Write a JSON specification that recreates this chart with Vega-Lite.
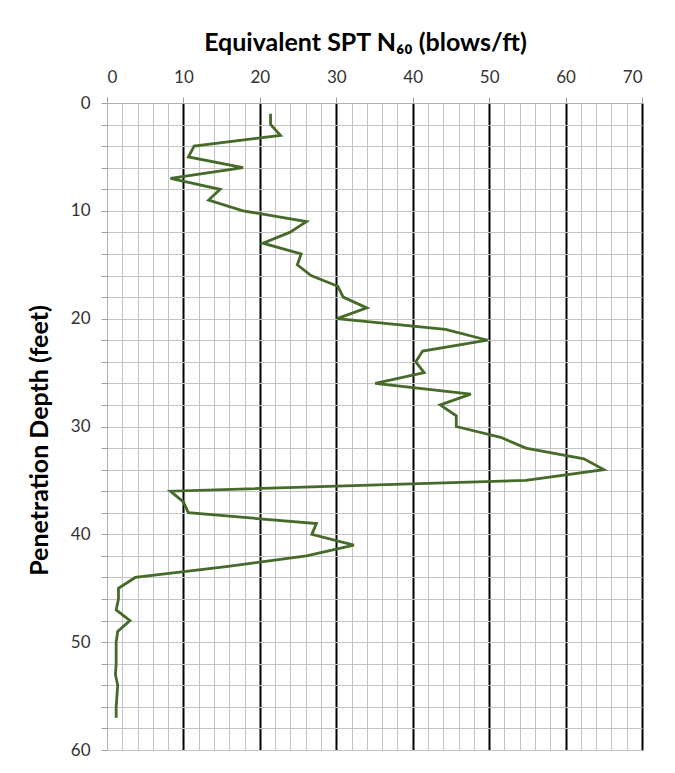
{
  "$schema": "https://vega.github.io/schema/vega-lite/v6.json",
  "width": 535,
  "height": 647,
  "autosize": "none",
  "padding": {"left": 107, "top": 103, "right": 33, "bottom": 23},
  "background": "white",
  "data": {
    "values": [
      {"depth": 1, "n60": 21.4}, {"depth": 2, "n60": 21.4}, {"depth": 3, "n60": 22.7},
      {"depth": 4, "n60": 11.4}, {"depth": 5, "n60": 10.65}, {"depth": 6, "n60": 17.8},
      {"depth": 7, "n60": 8.3}, {"depth": 8, "n60": 14.8}, {"depth": 9, "n60": 13.3},
      {"depth": 10, "n60": 17.8}, {"depth": 11, "n60": 26.1}, {"depth": 12, "n60": 23.9},
      {"depth": 13, "n60": 20.4}, {"depth": 14, "n60": 25.4}, {"depth": 15, "n60": 24.9},
      {"depth": 16, "n60": 26.7}, {"depth": 17, "n60": 30.2}, {"depth": 18, "n60": 30.9},
      {"depth": 19, "n60": 34.0}, {"depth": 20, "n60": 30.1}, {"depth": 21, "n60": 44.3},
      {"depth": 22, "n60": 49.8}, {"depth": 23, "n60": 41.3}, {"depth": 24, "n60": 40.4},
      {"depth": 25, "n60": 41.5}, {"depth": 26, "n60": 35.1}, {"depth": 27, "n60": 47.6},
      {"depth": 28, "n60": 43.6}, {"depth": 29, "n60": 45.7}, {"depth": 30, "n60": 45.7},
      {"depth": 31, "n60": 51.5}, {"depth": 32, "n60": 54.8}, {"depth": 33, "n60": 62.4},
      {"depth": 34, "n60": 65.0}, {"depth": 35, "n60": 54.8}, {"depth": 36, "n60": 8.3},
      {"depth": 37, "n60": 10.0}, {"depth": 38, "n60": 10.65}, {"depth": 39, "n60": 27.4},
      {"depth": 40, "n60": 26.8}, {"depth": 41, "n60": 32.3}, {"depth": 42, "n60": 26.1},
      {"depth": 43, "n60": 15.6}, {"depth": 44, "n60": 3.7}, {"depth": 45, "n60": 1.5},
      {"depth": 46, "n60": 1.5}, {"depth": 47, "n60": 1.2}, {"depth": 48, "n60": 3.0},
      {"depth": 49, "n60": 1.4}, {"depth": 50, "n60": 1.2}, {"depth": 51, "n60": 1.2},
      {"depth": 52, "n60": 1.2}, {"depth": 53, "n60": 1.1}, {"depth": 54, "n60": 1.4},
      {"depth": 55, "n60": 1.3}, {"depth": 56, "n60": 1.2}, {"depth": 57, "n60": 1.2}
    ]
  },
  "mark": {"type": "line", "color": "#466a2a", "strokeWidth": 2.8, "clip": true},
  "encoding": {
    "x": {
      "field": "n60",
      "type": "quantitative",
      "scale": {"domain": [0, 70], "nice": false, "zero": true},
      "axis": {
        "orient": "top",
        "title": "Equivalent SPT N₆₀ (blows/ft)",
        "values": [0,2,4,6,8,10,12,14,16,18,20,22,24,26,28,30,32,34,36,38,40,42,44,46,48,50,52,54,56,58,60,62,64,66,68,70],
        "labelExpr": "datum.value % 10 === 0 ? datum.label : ''",
        "gridColor": {"condition": {"test": "datum.value % 10 === 0 && datum.value > 0", "value": "#000000"}, "value": "#c4c4c4"},
        "gridWidth": {"condition": {"test": "datum.value % 10 === 0 && datum.value > 0", "value": 2}, "value": 1},
        "tickOpacity": {"condition": {"test": "datum.value % 10 === 0", "value": 1}, "value": 0},
        "tickSize": 6,
        "tickColor": "#a0a0a0",
        "domainColor": "#b0b0b0",
        "labelFont": "Lato",
        "labelFontSize": 17,
        "labelColor": "#333333",
        "labelPadding": 11,
        "titleFont": "Lato",
        "titleFontSize": 25,
        "titleFontWeight": "bold",
        "titleColor": "#000000",
        "titleX": 258,
        "titleY": -61,
        "titleBaseline": "middle"
      }
    },
    "y": {
      "field": "depth",
      "type": "quantitative",
      "scale": {"domain": [0, 60], "reverse": true, "nice": false},
      "axis": {
        "values": [0,2,4,6,8,10,12,14,16,18,20,22,24,26,28,30,32,34,36,38,40,42,44,46,48,50,52,54,56,58,60],
        "labelExpr": "datum.value % 10 === 0 ? datum.label : ''",
        "gridColor": "#c4c4c4",
        "gridWidth": 1,
        "tickSize": 6,
        "tickColor": "#a0a0a0",
        "domainColor": "#b0b0b0",
        "labelFont": "Lato",
        "labelFontSize": 17,
        "labelColor": "#333333",
        "labelPadding": 11,
        "title": "Penetration Depth (feet)",
        "titleFont": "Lato",
        "titleFontSize": 25,
        "titleFontWeight": "bold",
        "titleColor": "#000000",
        "titleX": -68,
        "titleY": 337,
        "titleBaseline": "middle"
      }
    },
    "order": {"field": "depth", "type": "quantitative"}
  },
  "config": {"view": {"stroke": "#c4c4c4"}}
}
